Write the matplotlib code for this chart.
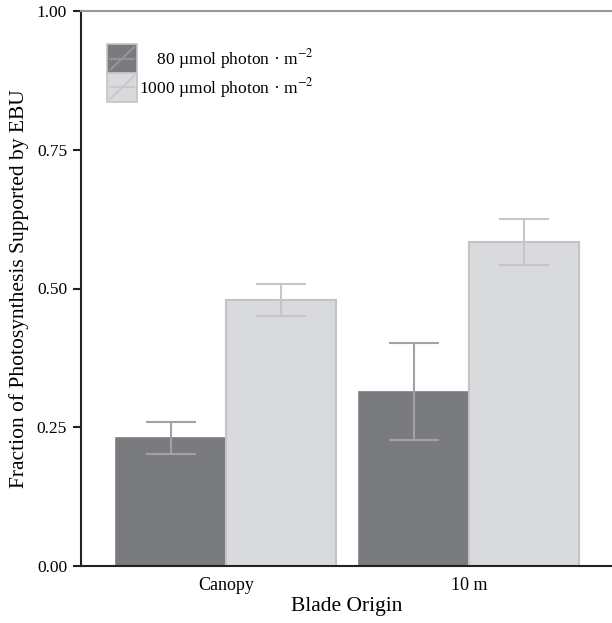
import matplotlib
matplotlib.use('Agg')
import matplotlib.pyplot as plt
import numpy as np
from matplotlib.legend_handler import HandlerBase
from matplotlib.patches import Rectangle
from matplotlib.lines import Line2D

plt.rcParams['font.family'] = ['Liberation Serif', 'DejaVu Serif']
plt.rcParams['mathtext.fontset'] = 'stix'

# data
origins = ['Canopy', '10 m']
low_light = [0.231, 0.314]
low_err = [0.029, 0.087]
high_light = [0.479, 0.584]
high_err = [0.029, 0.041]
labels = ['80 \u00b5mol photon \u00b7 m$^{-2}$', '1000 \u00b5mol photon \u00b7 m$^{-2}$']

dark = '#7a7b7f'
light = '#d9dadc'
edge = '#c3c3c7'


class BarHandler(HandlerBase):
    def create_artists(self, legend, orig_handle, xdescent, ydescent,
                       width, height, fontsize, trans):
        fc = orig_handle.get_facecolor()
        lc = orig_handle.get_edgecolor()
        r = Rectangle((-xdescent, -ydescent), width, height, facecolor=fc,
                      edgecolor=edge, lw=1.2, transform=trans)
        h = Line2D([-xdescent + 2, -xdescent + width - 2],
                   [-ydescent + height / 2] * 2, color=lc, lw=1.2, transform=trans)
        d = Line2D([-xdescent + 2, -xdescent + width - 2],
                   [-ydescent + 2, -ydescent + height - 2], color=lc, lw=1.2, transform=trans)
        return [r, h, d]


fig = plt.figure(figsize=(6.12, 6.23), dpi=100)
ax = fig.add_axes([81 / 612, 57 / 623, 531 / 612, 555 / 623])

x = np.arange(len(origins))
w = 0.4527
ax.bar(x - w / 2, low_light, w, color=dark, edgecolor=dark, lw=1.2)
ax.bar(x + w / 2, high_light, w, color=light, edgecolor=edge, lw=1.5)
ax.errorbar(x - w / 2, low_light, yerr=low_err, fmt='none', ecolor='#a2a2a6',
            elinewidth=1.5, capsize=18, capthick=1.5)
ax.errorbar(x + w / 2, high_light, yerr=high_err, fmt='none', ecolor='#c6c6ca',
            elinewidth=1.5, capsize=18, capthick=1.5)

ax.set_xlim(-0.597, 1.589)
ax.set_ylim(0, 1)
ax.set_yticks([0, 0.25, 0.5, 0.75, 1.0])
ax.set_yticklabels(['0.00', '0.25', '0.50', '0.75', '1.00'])
ax.set_xticks(x)
ax.set_xticklabels(origins)
ax.tick_params(axis='x', length=0, pad=8, labelsize=13)
ax.tick_params(axis='y', length=6, width=1.5, color='#222222', labelsize=12.5, pad=4)
for s in ['left', 'bottom']:
    ax.spines[s].set_linewidth(1.5)
    ax.spines[s].set_color('#222222')
ax.spines['top'].set_color('#999999')
ax.spines['top'].set_linewidth(1.5)
ax.spines['right'].set_visible(False)

ax.set_xlabel('Blade Origin', fontsize=15.5, labelpad=2)
ax.set_ylabel('Fraction of Photosynthesis Supported by EBU', fontsize=15.5, labelpad=6)

handles = [Rectangle((0, 0), 1, 1, facecolor=dark, edgecolor='#9a9a9e'),
           Rectangle((0, 0), 1, 1, facecolor=light, edgecolor='#c6c6ca')]
leg_labels = ['\u2007\u2007' + labels[0], labels[1]]
ax.legend(handles, leg_labels, handler_map={Rectangle: BarHandler()},
          loc='upper left', bbox_to_anchor=(0.049, 0.9405), frameon=False,
          fontsize=12.6, handlelength=1.72, handleheight=2.17, labelspacing=0,
          handletextpad=0.1, borderpad=0, borderaxespad=0)

fig.savefig('out.png', dpi=100)
